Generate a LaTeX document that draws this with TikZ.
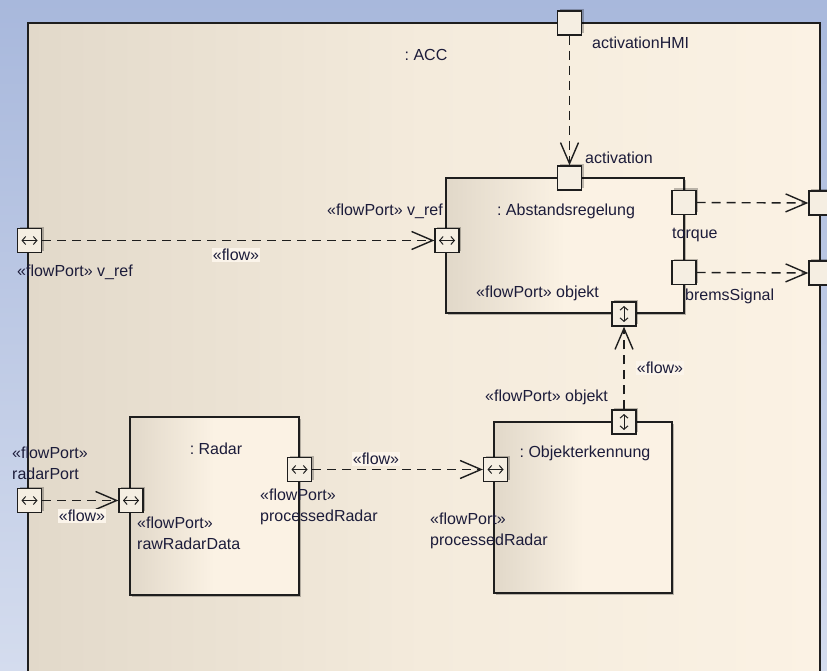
\documentclass[tikz,border=0pt]{standalone}
\usepackage{fontspec}
\setmainfont{Liberation Sans}
\usetikzlibrary{arrows.meta,shadows}
\frenchspacing
\definecolor{txt}{HTML}{1C1C3A}
\definecolor{bgT}{HTML}{A8B8DC}
\definecolor{bgB}{HTML}{D4DCEE}
\definecolor{frL}{HTML}{E2D9CA}
\definecolor{frM}{HTML}{F4EBDC}
\definecolor{frR}{HTML}{FBF2E4}
\definecolor{bxL}{HTML}{E1D8C9}
\definecolor{bxR}{HTML}{FBF2E4}
\definecolor{prt}{HTML}{F5EEE2}
\definecolor{lnc}{HTML}{1E1E1E}
\definecolor{flowbg}{HTML}{FBF4EA}
\begin{document}
\begin{tikzpicture}[x=1pt,y=1pt,
  lbl/.style={inner sep=0pt, text=txt, font=\fontsize{16}{21}\selectfont, align=left},
  frame/.style={draw=lnc, line width=1.3pt, left color=frL, right color=frR, middle color=frM},
  box/.style={rectangle, draw=lnc, line width=1.4pt, left color=bxL, right color=bxR, middle color=bxR,
    inner sep=0pt, drop shadow={shadow xshift=2pt, shadow yshift=-2pt, fill=black, opacity=0.25}},
  port/.style={rectangle, draw=lnc, line width=1.3pt, fill=prt, minimum size=24pt, inner sep=0pt,
    drop shadow={shadow xshift=2pt, shadow yshift=2pt, fill=black, opacity=0.25}},
  hport/.style={port, path picture={\draw[line width=1pt,
      {Straight Barb[length=3.5pt,width=8pt]}-{Straight Barb[length=3.5pt,width=8pt]}]
      ([xshift=-8pt]path picture bounding box.center) -- ([xshift=8pt]path picture bounding box.center);}},
  vport/.style={port, path picture={\draw[line width=1pt,
      {Straight Barb[length=3.5pt,width=8pt]}-{Straight Barb[length=3.5pt,width=8pt]}]
      ([yshift=-8pt]path picture bounding box.center) -- ([yshift=8pt]path picture bounding box.center);}},
  flowline/.style={draw=lnc, line width=1.4pt, dash pattern=on 9pt off 6pt,
    -{Straight Barb[length=21pt,width=18pt,line width=1.4pt]}},
  flowlbl/.style={lbl, fill=flowbg, inner sep=1pt}
]
\useasboundingbox (0,0) rectangle (827,-671);
\shade[top color=bgT, bottom color=bgB] (0,0) rectangle (827,-671);
\begin{scope}
\clip (0,0) rectangle (827,-671);
\path[frame] (28,-23) rectangle (820,-700);

% component boxes
\node[box, minimum width=238pt, minimum height=135pt] (abst) at (565,-245.5) {};
\node[box, minimum width=169pt, minimum height=178pt] (radar) at (214.5,-506) {};
\node[box, minimum width=178pt, minimum height=171pt] (objk) at (583,-507.5) {};

% ports
\node[port] (hmi) at (569.5,-23) {};
\node[port] (act) at (569.5,-178) {};
\node[hport] (vrefL) at (29.5,-240.5) {};
\node[hport] (vref) at (447,-240.5) {};
\node[port] (torque) at (684,-202.5) {};
\node[port] (brems) at (684,-272.5) {};
\node[port] (outT) at (821,-203) {};
\node[port] (outB) at (821,-273) {};
\node[vport] (objA) at (624,-314) {};
\node[vport] (objO) at (624,-422) {};
\node[hport] (radarP) at (29.5,-500.5) {};
\node[hport] (raw) at (131,-500.5) {};
\node[hport] (procR) at (299.5,-469.5) {};
\node[hport] (procO) at (495.5,-469.5) {};

% connectors
\draw[flowline] (hmi.south) -- (act.north);
\draw[flowline] (vrefL.east) -- (vref.west);
\draw[flowline] (torque.east) -- (outT.west);
\draw[flowline] (brems.east) -- (outB.west);
\draw[flowline] (objO.north) -- (objA.south);
\draw[flowline] (radarP.east) -- (raw.west);
\draw[flowline] (procR.east) -- (procO.west);

% labels
\node[lbl] (tACC) at (426,-55) {: ACC};
\node[lbl, anchor=west] (tHMI) at (592,-43) {activationHMI};
\node[lbl, anchor=west] (tAct) at (585,-158) {activation};
\node[lbl] (tAbst) at (566,-211) {: Abstandsregelung};
\node[lbl, anchor=east] (tVref) at (443,-211) {«flowPort» v\_ref};
\node[flowlbl] (tF1) at (236,-255) {«flow»};
\node[lbl, anchor=west] (tVrefL) at (17,-272) {«flowPort» v\_ref};
\node[lbl, anchor=west] (tTorque) at (672,-235) {torque};
\node[lbl, anchor=west] (tBrems) at (685,-296) {bremsSignal};
\node[lbl, anchor=west] (tObjA) at (476,-293) {«flowPort» objekt};
\node[flowlbl] (tF2) at (660,-368) {«flow»};
\node[lbl, anchor=west] (tObjO) at (485,-397) {«flowPort» objekt};
\node[lbl] (tObjk) at (585,-453) {: Objekterkennung};
\node[lbl] (tRadar) at (216,-449) {: Radar};
\node[lbl, anchor=west] (tRadarP) at (12,-463) {«flowPort»\\radarPort};
\node[flowlbl] (tF3) at (82,-516) {«flow»};
\node[lbl, anchor=west] (tRaw) at (137,-533) {«flowPort»\\rawRadarData};
\node[lbl, anchor=west] (tProcR) at (260,-507) {«flowPort»\\processedRadar};
\node[flowlbl] (tF4) at (376,-459) {«flow»};
\node[lbl, anchor=west] (tProcO) at (430,-531) {«flowPort»\\processedRadar};
\end{scope}
\end{tikzpicture}
\end{document}
